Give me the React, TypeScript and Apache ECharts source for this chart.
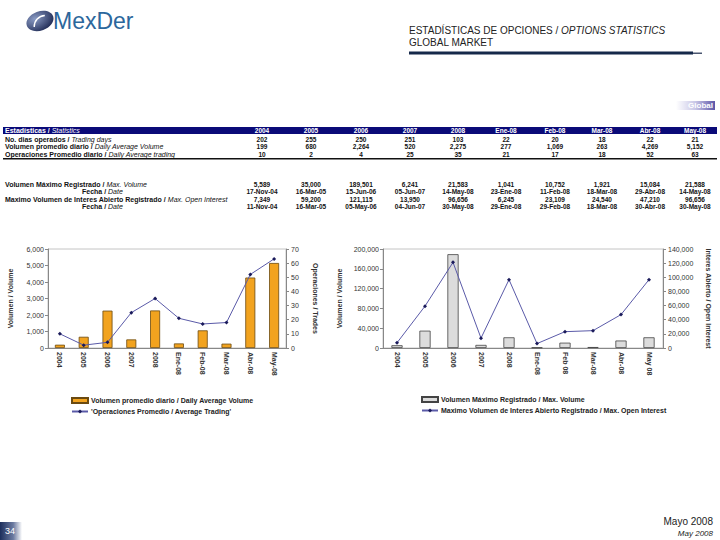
import React, { useEffect, useRef } from "react";
import * as echarts from "echarts";

const periods = ["2004", "2005", "2006", "2007", "2008", "Ene-08", "Feb-08", "Mar-08", "Abr-08", "May-08"];
const leftCats = ["2004", "2005", "2006", "2007", "2008", "Ene-08", "Feb-08", "Mar-08", "Abr-08", "May-08"];
const rightCats = ["2004", "2005", "2006", "2007", "2008", "Ene-08", "Feb 08", "Mar-08", "Abr-08", "May 08"];
const tradingDays = [202, 255, 250, 251, 103, 22, 20, 18, 22, 21];
const avgVolume = [199, 680, 2264, 520, 2275, 277, 1069, 263, 4269, 5152];
const avgTrades = [10, 2, 4, 25, 35, 21, 17, 18, 52, 63];
const maxVolume = [5589, 35000, 189501, 6241, 21583, 1041, 10752, 1921, 15084, 21588];
const maxVolumeDate = ["17-Nov-04", "16-Mar-05", "15-Jun-06", "05-Jun-07", "14-May-08", "23-Ene-08", "11-Feb-08", "18-Mar-08", "29-Abr-08", "14-May-08"];
const maxOI = [7349, 59200, 121115, 13950, 96656, 6245, 23109, 24540, 47210, 96656];
const maxOIDate = ["11-Nov-04", "16-Mar-05", "05-May-06", "04-Jun-07", "30-May-08", "29-Ene-08", "29-Feb-08", "18-Mar-08", "30-Abr-08", "30-May-08"];

const leftVolTicks = { min: 0, max: 6000, interval: 1000 };
const leftTradeTicks = { min: 0, max: 70, interval: 10 };
const rightVolTicks = { min: 0, max: 200000, interval: 40000 };
const rightOITicks = { min: 0, max: 140000, interval: 20000 };

const NARROW = "'Liberation Sans Narrow', 'Arial Narrow', 'Liberation Sans', Arial, sans-serif";
const SANS = "'Liberation Sans', Arial, sans-serif";

const fmt = (v: number) => v.toLocaleString("en-US");

const colX = [262, 311, 361, 410, 458, 506, 555, 602, 650, 695];

function tableGraphics(): any[] {
  const g: any[] = [];
  const cell = (x: number, y: number, text: string, color = "#111") => ({
    type: "text",
    x,
    y,
    style: { text, fill: color, font: `bold 6.5px ${NARROW}`, align: "center", verticalAlign: "middle" },
  });
  const label = (x: number, y: number, b: string, i: string, color = "#111") => ({
    type: "text",
    x,
    y,
    style: {
      text: `{b|${b}}{i|${i}}`,
      verticalAlign: "middle",
      rich: {
        b: { fill: color, font: `bold 7px ${NARROW}` } as any,
        i: { fill: color, font: `italic 7px ${NARROW}` } as any,
      },
    },
  });
  g.push({ type: "rect", shape: { x: 3, y: 127, width: 714, height: 7 }, style: { fill: "#0a0a78" } });
  g.push(label(5, 130.5, "Estadísticas / ", "Statistics", "#fff"));
  periods.forEach((p, i) => g.push(cell(colX[i], 130.5, p, "#fff")));
  const rows = [
    { y: 139, b: "No. dias operados / ", i: "Trading days", vals: tradingDays.map(fmt) },
    { y: 146.5, b: "Volumen promedio diario / ", i: "Daily Average Volume", vals: avgVolume.map(fmt) },
    { y: 154, b: "Operaciones Promedio diario / ", i: "Daily Average trading", vals: avgTrades.map(fmt) },
  ];
  rows.forEach((r) => {
    g.push(label(5, r.y, r.b, r.i));
    r.vals.forEach((v, i) => g.push(cell(colX[i], r.y, v)));
  });
  g.push({ type: "rect", shape: { x: 3, y: 158, width: 714, height: 1.5 }, style: { fill: "#111" } });
  const rows2 = [
    { y: 184, x: 5, b: "Volumen Máximo Registrado / ", i: "Max. Volume", vals: maxVolume.map(fmt) },
    { y: 191.5, x: 82, b: "Fecha / ", i: "Date", vals: maxVolumeDate },
    { y: 199, x: 5, b: "Maximo Volumen de Interes Abierto Registrado / ", i: "Max. Open Interest", vals: maxOI.map(fmt) },
    { y: 206.5, x: 82, b: "Fecha / ", i: "Date", vals: maxOIDate },
  ];
  rows2.forEach((r) => {
    g.push(label(r.x, r.y, r.b, r.i));
    r.vals.forEach((v, i) => g.push(cell(colX[i], r.y, v)));
  });
  return g;
}

export default function App() {
  const ref = useRef<HTMLDivElement>(null);
  useEffect(() => {
    if (!ref.current) return;
    const chart = echarts.init(ref.current, null, { renderer: "svg" });
    const axisLabel = { fontSize: 7, color: "#333", fontFamily: SANS };
    const axisLine = { show: true, lineStyle: { color: "#888", width: 1 } };
    const axisTick = { show: true, length: 3, lineStyle: { color: "#888" } };
    const nameStyle = { fontSize: 7, color: "#333", fontFamily: SANS, fontWeight: "bold" as const };

    const graphic: any[] = [
      {
        type: "group",
        x: 40,
        y: 21,
        rotation: 0.35,
        children: [
          {
            type: "ellipse",
            shape: { cx: 0, cy: 0, rx: 14, ry: 9.5 },
            style: {
              fill: new echarts.graphic.RadialGradient(0.35, 0.3, 0.8, [
                { offset: 0, color: "#8a9bc4" },
                { offset: 1, color: "#1b2650" },
              ]),
            },
          },
          {
            type: "arc",
            shape: { cx: 3, cy: 7, r: 11, startAngle: Math.PI * 1.1, endAngle: Math.PI * 1.6 },
            style: { stroke: "#ffffff", lineWidth: 1.4, fill: "none" },
          },
        ],
      },
      {
        type: "text",
        x: 53,
        y: 21,
        style: { text: "MexDer", font: `23px ${SANS}`, fill: "#2c679c", verticalAlign: "middle" },
      },
      {
        type: "text",
        x: 409,
        y: 30,
        style: {
          text: "{n|ESTADÍSTICAS DE OPCIONES / }{i|OPTIONS STATISTICS}",
          verticalAlign: "middle",
          rich: {
            n: { fill: "#222", font: `10px ${SANS}` } as any,
            i: { fill: "#222", font: `italic 10px ${SANS}` } as any,
          },
        },
      },
      {
        type: "text",
        x: 409,
        y: 42,
        style: { text: "GLOBAL MARKET", fill: "#222", font: `10px ${SANS}`, verticalAlign: "middle" },
      },
      { type: "rect", shape: { x: 409, y: 51.5, width: 284, height: 3 }, style: { fill: "#16294a" } },
      { type: "rect", shape: { x: 693, y: 52.5, width: 9, height: 1.5 }, style: { fill: "#4a5670" } },
      {
        type: "rect",
        shape: { x: 676, y: 101, width: 39, height: 9 },
        style: {
          fill: new echarts.graphic.LinearGradient(0, 0, 1, 0, [
            { offset: 0, color: "#ffffff" },
            { offset: 0.5, color: "#c8c6e6" },
            { offset: 1, color: "#5d55a8" },
          ]),
        },
      },
      {
        type: "text",
        x: 713,
        y: 105.5,
        style: { text: "Global", fill: "#fff", font: `bold 8px ${SANS}`, align: "right", verticalAlign: "middle" },
      },
      ...tableGraphics(),
      {
        type: "rect",
        shape: { x: 0, y: 522, width: 22, height: 18 },
        style: {
          fill: new echarts.graphic.LinearGradient(0, 0, 1, 0, [
            { offset: 0, color: "#1c2e5c" },
            { offset: 0.6, color: "#6b7aa0" },
            { offset: 1, color: "#ffffff" },
          ]),
        },
      },
      {
        type: "text",
        x: 5,
        y: 531,
        style: { text: "34", fill: "#fff", font: `9px ${SANS}`, verticalAlign: "middle" },
      },
      {
        type: "text",
        x: 713,
        y: 521,
        style: { text: "Mayo 2008", fill: "#222", font: `10px ${NARROW}`, align: "right", verticalAlign: "middle" },
      },
      {
        type: "text",
        x: 713,
        y: 533,
        style: { text: "May 2008", fill: "#222", font: `italic 8px ${NARROW}`, align: "right", verticalAlign: "middle" },
      },
    ];

    const catAxis = (gridIndex: number, data: string[]) => ({
      type: "category",
      gridIndex,
      data,
      axisLine,
      axisTick: { show: false },
      axisLabel: { ...axisLabel, rotate: -90, margin: 4, fontWeight: "bold" },
    });

    const legendText = { fontSize: 7, fontWeight: "bold", color: "#222", fontFamily: SANS, padding: [0, 0, 0, -2] };

    chart.setOption({
      animation: false,
      backgroundColor: "#ffffff",
      graphic,
      grid: [
        { left: 48, top: 249, width: 238, height: 99, show: true, borderColor: "#c4c4c4", borderWidth: 1 },
        { left: 383, top: 249, width: 280, height: 99, show: true, borderColor: "#c4c4c4", borderWidth: 1 },
      ],
      legend: [
        {
          orient: "vertical",
          left: 66,
          top: 392,
          itemGap: 4,
          itemWidth: 16,
          itemHeight: 5,
          textStyle: legendText,
          data: [
            { name: "Volumen promedio diario / Daily Average Volume", icon: "rect" },
            { name: "'Operaciones Promedio / Average Trading'" },
          ],
        },
        {
          orient: "vertical",
          left: 416,
          top: 391,
          itemGap: 4,
          itemWidth: 16,
          itemHeight: 5,
          textStyle: legendText,
          data: [
            { name: "Volumen Máximo Registrado / Max. Volume", icon: "rect" },
            { name: "Maximo Volumen de Interes Abierto Registrado / Max. Open Interest" },
          ],
        },
      ],
      xAxis: [catAxis(0, leftCats), catAxis(1, rightCats)],
      yAxis: [
        {
          type: "value",
          gridIndex: 0,
          ...leftVolTicks,
          name: "Volumen / Volume",
          nameLocation: "middle",
          nameGap: 34,
          nameRotate: 90,
          nameTextStyle: nameStyle,
          axisLine,
          axisTick,
          splitLine: { show: false },
          axisLabel: { ...axisLabel, formatter: (v: number) => fmt(v), margin: 4 },
        },
        {
          type: "value",
          gridIndex: 0,
          position: "right",
          ...leftTradeTicks,
          name: "Operaciones / Trades",
          nameLocation: "middle",
          nameGap: 26,
          nameRotate: -90,
          nameTextStyle: nameStyle,
          axisLine,
          axisTick,
          splitLine: { show: false },
          axisLabel: { ...axisLabel, margin: 5 },
        },
        {
          type: "value",
          gridIndex: 1,
          ...rightVolTicks,
          name: "Volumen / Volume",
          nameLocation: "middle",
          nameGap: 40,
          nameRotate: 90,
          nameTextStyle: nameStyle,
          axisLine,
          axisTick,
          splitLine: { show: false },
          axisLabel: { ...axisLabel, formatter: (v: number) => fmt(v), margin: 4 },
        },
        {
          type: "value",
          gridIndex: 1,
          position: "right",
          ...rightOITicks,
          name: "Interes Abierto / Open Interest",
          nameLocation: "middle",
          nameGap: 42,
          nameRotate: -90,
          nameTextStyle: nameStyle,
          axisLine,
          axisTick,
          splitLine: { show: false },
          axisLabel: { ...axisLabel, formatter: (v: number) => fmt(v), margin: 5 },
        },
      ],
      series: [
        {
          name: "Volumen promedio diario / Daily Average Volume",
          type: "bar",
          xAxisIndex: 0,
          yAxisIndex: 0,
          data: avgVolume,
          barWidth: "42%",
          itemStyle: { color: "#f2a31f", borderColor: "#6b4a10", borderWidth: 0.8 },
        },
        {
          name: "'Operaciones Promedio / Average Trading'",
          type: "line",
          xAxisIndex: 0,
          yAxisIndex: 1,
          data: avgTrades,
          symbol: "diamond",
          symbolSize: 4,
          lineStyle: { color: "#5a5aa8", width: 1 },
          itemStyle: { color: "#1a1a5a" },
        },
        {
          name: "Volumen Máximo Registrado / Max. Volume",
          type: "bar",
          xAxisIndex: 1,
          yAxisIndex: 2,
          data: maxVolume,
          barWidth: "40%",
          itemStyle: { color: "#dcdcdc", borderColor: "#444", borderWidth: 0.8 },
        },
        {
          name: "Maximo Volumen de Interes Abierto Registrado / Max. Open Interest",
          type: "line",
          xAxisIndex: 1,
          yAxisIndex: 3,
          data: maxOI,
          symbol: "diamond",
          symbolSize: 4,
          lineStyle: { color: "#5a5aa8", width: 1 },
          itemStyle: { color: "#1a1a5a" },
        },
      ],
    });
    return () => chart.dispose();
  }, []);
  return <div ref={ref} style={{ position: "fixed", left: 0, top: 0, width: 720, height: 540 }} />;
}
